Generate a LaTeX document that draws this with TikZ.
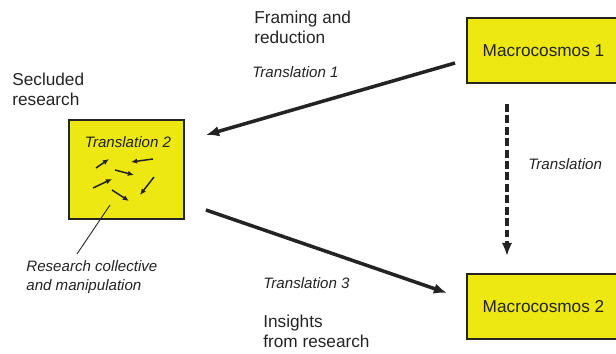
\documentclass[tikz,border=0pt]{standalone}
\usepackage{fontspec}
\setmainfont{Liberation Sans}
\usetikzlibrary{arrows.meta,calc}
\definecolor{boxyellow}{RGB}{237,232,18}
\definecolor{inkgray}{RGB}{35,35,35}
\tikzset{%
        x = 0.02cm,
        y = -0.02cm,
        >={Latex[length=7.5pt,width=6pt]}
}
\tikzstyle{cosmos}=[
    draw = inkgray,
    fill = boxyellow,
    line width = 1.1pt,
    inner sep = 0pt,
    text = inkgray,
    font = \fontsize{9.8}{11.4}\selectfont
]
\tikzstyle{remark}=[
    align = left,
    anchor = west,
    inner sep = 0pt,
    text = inkgray,
    font = \fontsize{9.8}{11.4}\selectfont
]
\tikzstyle{transl}=[
    remark,
    font = \fontsize{8.6}{10.8}\selectfont\itshape
]
\tikzstyle{bigarrow}=[
    ->,
    draw = inkgray,
    line width = 2pt
]
\tikzstyle{smallarrow}=[
    -{Latex[length=3.5pt,width=3pt]},
    draw = inkgray,
    line width = 0.85pt
]

\begin{document}
\begin{tikzpicture}
            \useasboundingbox (0,0) rectangle (616,354);
            % boxes
            \node[cosmos, minimum width=3.06cm, minimum height=1.3cm] (macro1) at (543.5,50.5) {Macrocosmos 1};
            \node[cosmos, minimum width=3.06cm, minimum height=1.3cm] (macro2) at (543.5,306.5) {Macrocosmos 2};
            \node[cosmos, minimum width=2.3cm, minimum height=1.98cm] (lab) at (126.5,169.5) {};
            \node[transl, anchor=center] (tr2) at (128,142) {Translation 2};
            % texts
            \node[remark] (framing) at (254,27) {Framing and\\reduction};
            \node[remark] (secluded) at (12,89) {Secluded\\research};
            \node[remark] (insights) at (263,331) {Insights\\from research};
            \node[transl] (tr1) at (252,72) {Translation 1};
            \node[transl] (tr3) at (263,283) {Translation 3};
            \node[transl] (trdown) at (528,164) {Translation};
            \node[transl] (collective) at (26,277) {Research collective\\and manipulation};
            % arrow ends
            \coordinate (t1from) at ($(macro1.west)+(-11,12.5)$);
            \coordinate (t1to) at ($(lab.east)+(21,-34.5)$);
            \coordinate (t3from) at ($(lab.east)+(21,40.5)$);
            \coordinate (t3to) at ($(macro2.west)+(-19,-13.5)$);
            \coordinate (tdfrom) at ($(macro1.south)+(-36.5,20)$);
            \coordinate (tdto) at ($(macro2.north)+(-36.5,-17)$);
            \coordinate (leadfoot) at ($(lab.center)+(-16.5,35.5)$);
            \coordinate (leadtip) at (77,254);
            \draw[bigarrow] (t1from) -- (t1to);
            \draw[bigarrow] (t3from) -- (t3to);
            \draw[bigarrow, dash pattern=on 4.5pt off 2pt] (tdfrom) -- (tdto);
            \draw[inkgray, line width=0.5pt] (leadfoot) -- (leadtip);
            % the little arrows in the lab
            \foreach \ax/\ay/\bx/\by in {-30.5/-1.5/-17.5/-10.5, 26.5/-10.5/4.5/-7.5, -11.5/0.5/7.5/5.5,
                               -33.5/18.5/-14.5/9.5, 27.5/7.5/13.5/25.5, -14.5/20.5/2.5/31.5}
                \draw[smallarrow] ($(lab.center)+(\ax,\ay)$) -- ($(lab.center)+(\bx,\by)$);
        \end{tikzpicture}
\end{document}
